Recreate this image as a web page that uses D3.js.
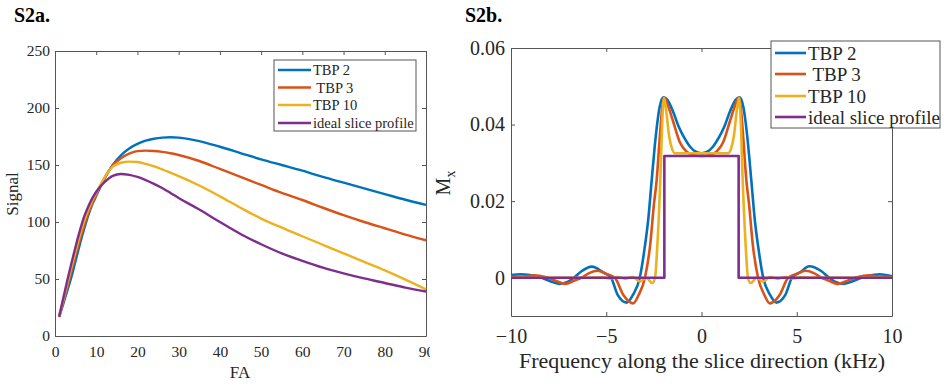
<!DOCTYPE html>
<html><head><meta charset="utf-8">
<script src="https://cdn.jsdelivr.net/npm/d3@7"></script>
<style>
body{margin:0;background:#fff}
text{font-family:"Liberation Serif","Times New Roman",serif;fill:#262626}
</style>
</head><body>
<svg id="c" width="944" height="386"></svg>
<script>
// ---------- data ----------
const seriesNames = ["TBP 2", " TBP 3", "TBP 10", "ideal slice profile"];
const seriesColors = ["#0072BD", "#D95319", "#EDB120", "#7E2F8E"];

// Panel S2a: signal vs flip angle
const faValues = [1,2,3,4,5,6,7,8,9,10,12,14,16,18,20,22,24,26,28,30,35,40,45,50,55,60,65,70,75,80,85,90];
const signalTBP2 = [16.5,28,40,52,66,80,93,105,115,123,138,150,158.5,164.5,168.5,171.3,173,174,174.3,174,171,166,160.5,155,150,145,139.5,134.5,129.5,124.5,119.5,115];
const signalTBP3 = [17,30,43.5,57,71,84,96,107,116,124,138.5,149.5,156,160,162.2,162.6,162.3,161.5,160.3,158.8,153.5,146.5,139.5,132.5,125.5,119.3,112.5,106,100,94.5,89,84];
const signalTBP10 = [17,31.5,46,60.5,74.5,88,100,110,118.5,125.5,139,148.5,152,153,152.6,151,148.8,146.2,143.3,140.3,132,122.5,112.5,103,95,87.5,80,72.5,65,57.5,49.5,41];
const signalIdeal = [17,33,49,64,78.5,92,104,113,120.5,126.5,135,140.5,142.1,141.3,139.5,136.8,133.5,129.8,125.5,121,111,100,89.5,80.5,72.5,66,60,55,50.5,46.5,42.5,39];
const faTicks = [0,10,20,30,40,50,60,70,80,90];
const signalTicks = [0,50,100,150,200,250];

// Panel S2b: Mx vs frequency
const freqTBP2 = [-10,-9.5,-9,-8.5,-8,-7.45,-7,-6.7,-6.3,-5.75,-5.2,-4.75,-4.4,-3.93,-3.6,-3.24,-2.97,-2.8,-2.61,-2.4,-2.2,-2.0,-1.8,-1.5,-1.2,-0.9,-0.6,-0.3,0,
  0.3,0.6,0.9,1.2,1.5,1.8,2.0,2.2,2.4,2.61,2.8,2.97,3.24,3.6,3.93,4.4,4.75,5.2,5.65,6.3,6.7,7.0,7.45,8.0,8.5,9.0,9.35,9.7,10];
const mxTBP2 = [0.0007,0.0009,0.0007,0.0002,-0.0008,-0.0016,-0.0010,0,0.0017,0.0029,0.0015,0,-0.0045,-0.0065,-0.0045,0,0.0083,0.0150,0.0257,0.0370,0.0445,0.0471,0.0465,0.0435,0.0395,0.0365,0.0342,0.0329,0.0325,
  0.0329,0.0342,0.0365,0.0395,0.0435,0.0465,0.0471,0.0445,0.0370,0.0257,0.0150,0.0083,0,-0.0045,-0.0065,-0.0045,0,0.0015,0.0030,0.0017,0,-0.0010,-0.0016,-0.0008,0.0002,0.0007,0.0009,0.0007,0.0004];
const freqTBP3 = [-10,-9.3,-8.8,-8.2,-7.7,-7.15,-6.7,-6.3,-5.9,-5.45,-5.0,-4.55,-4.1,-3.58,-3.3,-2.97,-2.7,-2.5,-2.35,-2.2,-2.05,-1.95,-1.8,-1.5,-1.13,-0.8,-0.4,0,
  0.4,0.8,1.13,1.5,1.8,1.95,2.05,2.2,2.35,2.5,2.7,2.97,3.3,3.58,4.1,4.55,5.0,5.45,5.9,6.3,6.7,7.15,7.7,8.2,8.8,9.3,10];
const mxTBP3 = [0.0002,0.0003,0.0006,0.0002,-0.0007,-0.0016,-0.0008,0,0.0012,0.0018,0.0010,0,-0.0045,-0.0067,-0.0045,0,0.0083,0.0190,0.0257,0.0360,0.0450,0.0470,0.0455,0.0410,0.0353,0.0330,0.0320,0.0318,
  0.0320,0.0330,0.0353,0.0410,0.0455,0.0470,0.0450,0.0360,0.0257,0.0190,0.0083,0,-0.0045,-0.0067,-0.0045,0,0.0010,0.0018,0.0012,0,-0.0008,-0.0016,-0.0007,0.0002,0.0006,0.0003,0.0002];
const freqTBP10 = [-10,-6,-5.2,-4.8,-4.4,-4.0,-3.6,-3.23,-2.91,-2.58,-2.44,-2.32,-2.16,-2.05,-1.97,-1.85,-1.7,-1.55,-1.4,0,
  1.4,1.55,1.7,1.85,1.97,2.05,2.16,2.32,2.44,2.58,2.91,3.23,3.6,4.0,4.4,4.8,5.2,6,10];
const mxTBP10 = [0,0,0.0001,-0.0002,0.0002,-0.0003,0.0002,-0.0010,0.0000,-0.0014,0,0.0083,0.0257,0.0420,0.0470,0.0435,0.0370,0.0337,0.0325,0.0325,
  0.0325,0.0337,0.0370,0.0435,0.0470,0.0420,0.0257,0.0083,0,-0.0014,0,-0.0010,0.0002,-0.0003,0.0002,-0.0002,0.0001,0,0];
const freqIdeal = [-10,-1.95,-1.95,1.95,1.95,10];
const mxIdeal = [0,0,0.0318,0.0318,0,0];
const freqTicks = [-10,-5,0,5,10];
const mxTicks = [0,0.02,0.04,0.06];

// ---------- drawing ----------
const svg = d3.select("#c");
const axisColor = "#555";

function boxAxes(g, x, y, xt, yt, opt) {
  const [x0, x1] = x.range(), [y0, y1] = y.range();
  const bottom = g.append("g").attr("transform", `translate(0,${y0})`)
    .call(d3.axisBottom(x).tickValues(xt).tickSizeInner(-opt.tick).tickSizeOuter(0).tickPadding(opt.xpad).tickFormat(opt.xfmt));
  const left = g.append("g").attr("transform", `translate(${x0},0)`)
    .call(d3.axisLeft(y).tickValues(yt).tickSizeInner(-opt.tick).tickSizeOuter(0).tickPadding(opt.ypad).tickFormat(opt.yfmt));
  const top = g.append("g").attr("transform", `translate(0,${y1})`)
    .call(d3.axisTop(x).tickValues(xt).tickSizeInner(-opt.tick).tickSizeOuter(0).tickFormat(""));
  const right = g.append("g").attr("transform", `translate(${x1},0)`)
    .call(d3.axisRight(y).tickValues(yt).tickSizeInner(-opt.tick).tickSizeOuter(0).tickFormat(""));
  [bottom, left, top, right].forEach(a => {
    a.select(".domain").attr("stroke", axisColor).attr("stroke-width", 1);
    a.selectAll(".tick line").attr("stroke", axisColor);
    a.selectAll("text").attr("font-family", "Liberation Serif, Times New Roman, serif").attr("fill", "#262626").attr("font-size", opt.fs);
  });
  return {bottom, left};
}

function legend(g, x, y, w, h, rowY, lineLen, fs) {
  g.append("rect").attr("x", x).attr("y", y).attr("width", w).attr("height", h)
    .attr("fill", "#fff").attr("stroke", "#555").attr("stroke-width", 1);
  seriesNames.forEach((n, i) => {
    const yy = y + rowY[i];
    g.append("line").attr("x1", x + 4).attr("x2", x + 4 + lineLen).attr("y1", yy).attr("y2", yy)
      .attr("stroke", seriesColors[i]).attr("stroke-width", 2.6);
    g.append("text").attr("x", x + 6 + lineLen).attr("y", yy).attr("dy", "0.35em")
      .attr("font-size", fs).style("white-space", "pre").text(n);
  });
}

// ----- Panel a -----
{
  const g = svg.append("g");
  const x = d3.scaleLinear().domain([0, 90]).range([55, 426]);
  const y = d3.scaleLinear().domain([0, 250]).range([336, 51]);
  svg.append("defs").append("clipPath").attr("id", "clipA")
    .append("rect").attr("x", 0).attr("y", 0).attr("width", 430).attr("height", 386);
  const ax = boxAxes(g, x, y, faTicks, signalTicks, {tick: 4, xpad: 10, ypad: 5, fs: "15.5px", xfmt: d3.format("d"), yfmt: d3.format("d")});
  ax.bottom.attr("clip-path", "url(#clipA)");
  const line = d3.line().x(d => x(d[0])).y(d => y(d[1])).curve(d3.curveMonotoneX);
  [signalTBP2, signalTBP3, signalTBP10, signalIdeal].forEach((s, i) => {
    g.append("path").datum(faValues.map((f, j) => [f, s[j]]))
      .attr("d", line).attr("fill", "none").attr("stroke", seriesColors[i]).attr("stroke-width", 2.4);
  });
  legend(g, 274, 60, 142, 71, [10, 27.5, 45, 63], 33, "14.5px");
  g.append("text").attr("x", 240).attr("y", 378).attr("text-anchor", "middle").attr("font-size", "17px").text("FA");
  g.append("text").attr("transform", "translate(18,194) rotate(-90)").attr("text-anchor", "middle").attr("font-size", "17px").text("Signal");
  g.append("text").attr("x", 14).attr("y", 21.5).attr("font-size", "20px").attr("font-weight", "bold").style("fill", "#000").text("S2a.");
}

// ----- Panel b -----
{
  const g = svg.append("g");
  const x = d3.scaleLinear().domain([-10, 10]).range([511, 892]);
  const y = d3.scaleLinear().domain([-0.01, 0.06]).range([316, 48]);
  boxAxes(g, x, y, freqTicks, mxTicks, {tick: 4, xpad: 13, ypad: 6, fs: "20px", xfmt: d3.format("d"), yfmt: d => d === 0 ? "0" : d3.format(".2f")(d)});
  const line = d3.line().x(d => x(d[0])).y(d => y(d[1])).curve(d3.curveMonotoneX);
  const lineLin = d3.line().x(d => x(d[0])).y(d => y(d[1]));
  const fr = [freqTBP2, freqTBP3, freqTBP10, freqIdeal];
  const mv = [mxTBP2, mxTBP3, mxTBP10, mxIdeal];
  mv.forEach((s, i) => {
    g.append("path").datum(fr[i].map((f, j) => [f, s[j]]))
      .attr("d", i === 3 ? lineLin : line).attr("fill", "none").attr("stroke", seriesColors[i])
      .attr("stroke-width", 2.6).attr("stroke-linejoin", "round");
  });
  legend(g, 771, 41, 169, 87, [12, 33, 55, 76], 31, "19px");
  g.append("text").attr("x", 702).attr("y", 368).attr("text-anchor", "middle").attr("font-size", "22px").text("Frequency along the slice direction (kHz)");
  const t = g.append("text").attr("transform", "translate(450,183) rotate(-90)").attr("text-anchor", "middle").attr("font-size", "20px");
  t.append("tspan").text("M");
  t.append("tspan").attr("font-size", "14px").attr("dy", "5").text("x");
  g.append("text").attr("x", 465).attr("y", 21.5).attr("font-size", "20px").attr("font-weight", "bold").style("fill", "#000").text("S2b.");
}
</script>
</body></html>
